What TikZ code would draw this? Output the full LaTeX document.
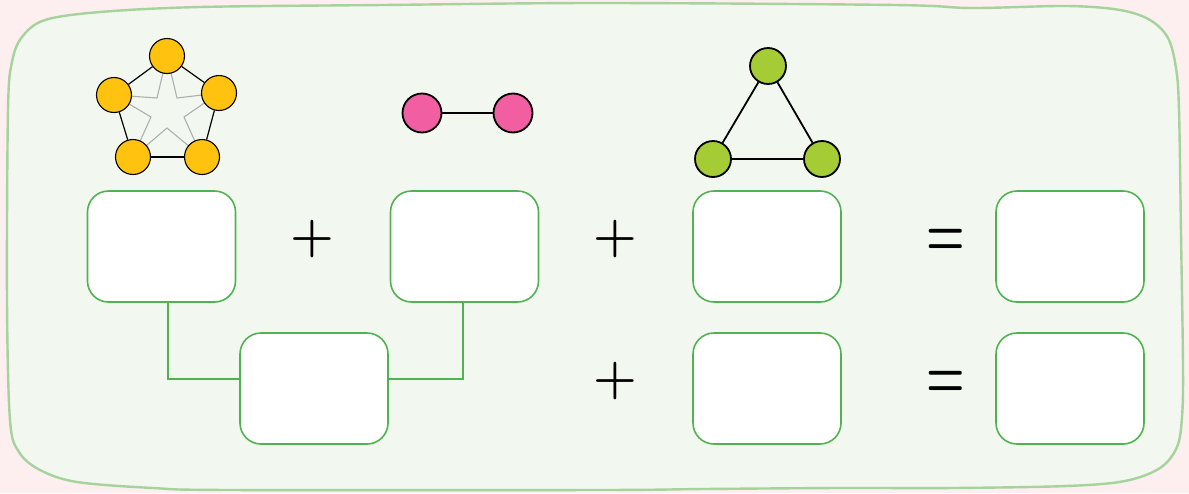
\documentclass[tikz,border=0pt]{standalone}
\pgfdeclarelayer{back}
\pgfdeclarelayer{mid}
\pgfsetlayers{back,mid,main}
\definecolor{bgpink}{RGB}{253,239,239}
\definecolor{panelfill}{RGB}{242,247,239}
\definecolor{panelline}{RGB}{166,210,156}
\definecolor{boxline}{RGB}{80,178,80}
\definecolor{nodeyellow}{RGB}{255,194,14}
\definecolor{nodepink}{RGB}{241,94,162}
\definecolor{nodelime}{RGB}{165,203,53}
\definecolor{stargray}{RGB}{175,175,175}
\begin{document}
\begin{tikzpicture}[x=1pt,y=-1pt,
  box/.style={draw=boxline,fill=white,line width=1.6pt,rounded corners=21pt,minimum width=148pt,minimum height=111pt,inner sep=0pt},
  conn/.style={draw=boxline,line width=1.6pt},
  ynode/.style={circle,draw=black,fill=nodeyellow,line width=1.1pt,minimum size=35pt,inner sep=0pt},
  pnode/.style={circle,draw=black,fill=nodepink,line width=1.8pt,minimum size=39pt,inner sep=0pt},
  lnode/.style={circle,draw=black,fill=nodelime,line width=1.8pt,minimum size=36pt,inner sep=0pt},
  pedge/.style={draw=black,line width=1.2pt},
  gedge/.style={draw=black,line width=1.8pt},
  starline/.style={draw=stargray,line width=1.1pt},
  plussign/.style={font=\fontsize{50}{50}\selectfont\bfseries,text height=25pt,text depth=0pt,inner sep=0pt},
  eqsign/.style={font=\fontsize{44}{44}\selectfont\bfseries,text height=22pt,text depth=0pt,inner sep=0pt,yscale=1.6,transform shape}]
\begin{pgfonlayer}{back}
\fill[bgpink] (0,0) rectangle (1189,493);
\useasboundingbox (0,0) rectangle (1189,493);
\draw[panelline,fill=panelfill,line width=2.4pt] plot[smooth cycle,tension=0.55] coordinates {
 (8,110) (12,62) (22,37) (45,20) (100,12) (200,7) (383,5) (600,3) (895,5) (972,8) (1067,6) (1120,10) (1150,20) (1168,38) (1176,68) (1179,110) (1181,233) (1183,367) (1182,417) (1177,447) (1160,468) (1125,481) (1067,486) (953,488) (838,488) (704,489) (600,490) (230,490) (153,488) (77,482) (40,470) (19,452) (10,420) (7,300)};
\end{pgfonlayer}
% pentagon graph
\node[ynode] (y1) at (167,56) {};
\node[ynode] (y2) at (219,93) {};
\node[ynode] (y3) at (202,157) {};
\node[ynode] (y4) at (133,157) {};
\node[ynode] (y5) at (114,95) {};
\coordinate (s1) at (177,98);
\coordinate (s2) at (184,117);
\coordinate (s3) at (167,128);
\coordinate (s4) at (151,117);
\coordinate (s5) at (157,98);
\begin{pgfonlayer}{mid}
\draw[starline] (y1.center) -- (s1) -- (y2.center) -- (s2) -- (y3.center) -- (s3) -- (y4.center) -- (s4) -- (y5.center) -- (s5) -- cycle;
\end{pgfonlayer}
\draw[pedge] (y1) -- (y2);
\draw[pedge] (y2) -- (y3);
\draw[pedge] (y3) -- (y4);
\draw[pedge] (y4) -- (y5);
\draw[pedge] (y5) -- (y1);
% pink pair
\node[pnode] (k1) at (422,113) {};
\node[pnode] (k2) at (513,113) {};
\draw[gedge] (k1) -- (k2);
% triangle
\node[lnode] (t1) at (768,66) {};
\node[lnode] (t2) at (713,159) {};
\node[lnode] (t3) at (822,159) {};
\draw[gedge] (t1) -- (t2);
\draw[gedge] (t2) -- (t3);
\draw[gedge] (t3) -- (t1);
% boxes
\node[box] (b1) at (161.5,246.5) {};
\node[box] (b2) at (464.5,246.5) {};
\node[box] (b3) at (767,246.5) {};
\node[box] (b4) at (1070,246.5) {};
\node[box] (b5) at (314,388.5) {};
\node[box] (b6) at (767,388.5) {};
\node[box] (b7) at (1070,388.5) {};
\begin{pgfonlayer}{mid}
\draw[conn] ([xshift=6.5pt]b1.south) |- ([yshift=9.5pt]b5.west);
\draw[conn] ([xshift=-1.5pt]b2.south) |- ([yshift=9.5pt]b5.east);
\end{pgfonlayer}
% signs
\node[plussign] (op1) at (312.5,238.5) {+};
\node[plussign] (op2) at (615,238.5) {+};
\node[plussign] (op3) at (615,380.5) {+};
\node[eqsign] (eq1) at (945.5,238.5) {=};
\node[eqsign] (eq2) at (945.5,381) {=};
\end{tikzpicture}
\end{document}
